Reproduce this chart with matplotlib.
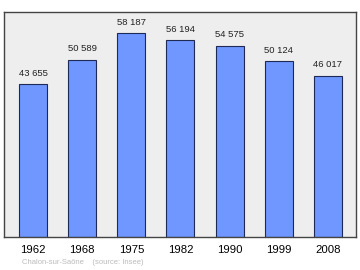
import numpy as np
import matplotlib.pyplot as plt

years = ["1962", "1968", "1975", "1982", "1990", "1999", "2008"]
population = [43655, 50589, 58187, 56194, 54575, 50124, 46017]
labels = ["43 655", "50 589", "58 187", "56 194", "54 575", "50 124", "46 017"]

plt.rcParams['font.family'] = ['Liberation Sans', 'DejaVu Sans']

fig = plt.figure(figsize=(3.6, 2.7), dpi=100)
ax = fig.add_axes([4/360, 1 - 237/270, 351.5/360, 225/270])
ax.set_facecolor('#eeeeee')

x = np.arange(len(years))
ax.bar(x, population, width=0.57, color='#7096ff', edgecolor='#1e2a55', linewidth=0.8, zorder=2)

for xi, v, lab in zip(x, population, labels):
    ax.annotate(lab, (xi, v), xytext=(0, 4.5), textcoords='offset points',
                ha='center', va='bottom', fontsize=6.8, color='#222222')

ax.set_xlim(-0.59, 6.56)
ax.set_ylim(0, 64150)
ax.set_xticks(x)
ax.set_xticklabels(years, fontsize=8.2)
ax.tick_params(axis='x', length=0, pad=6)
ax.set_yticks([])
for s in ax.spines.values():
    s.set_color('#444444')
    s.set_linewidth(1.0)

fig.text(22/360, 1 - 262/270, "Chalon-sur-Saône    (source: Insee)", fontsize=5.5,
         color='#bbbbbb', va='center', ha='left')

fig.savefig('out.png', dpi=100)
